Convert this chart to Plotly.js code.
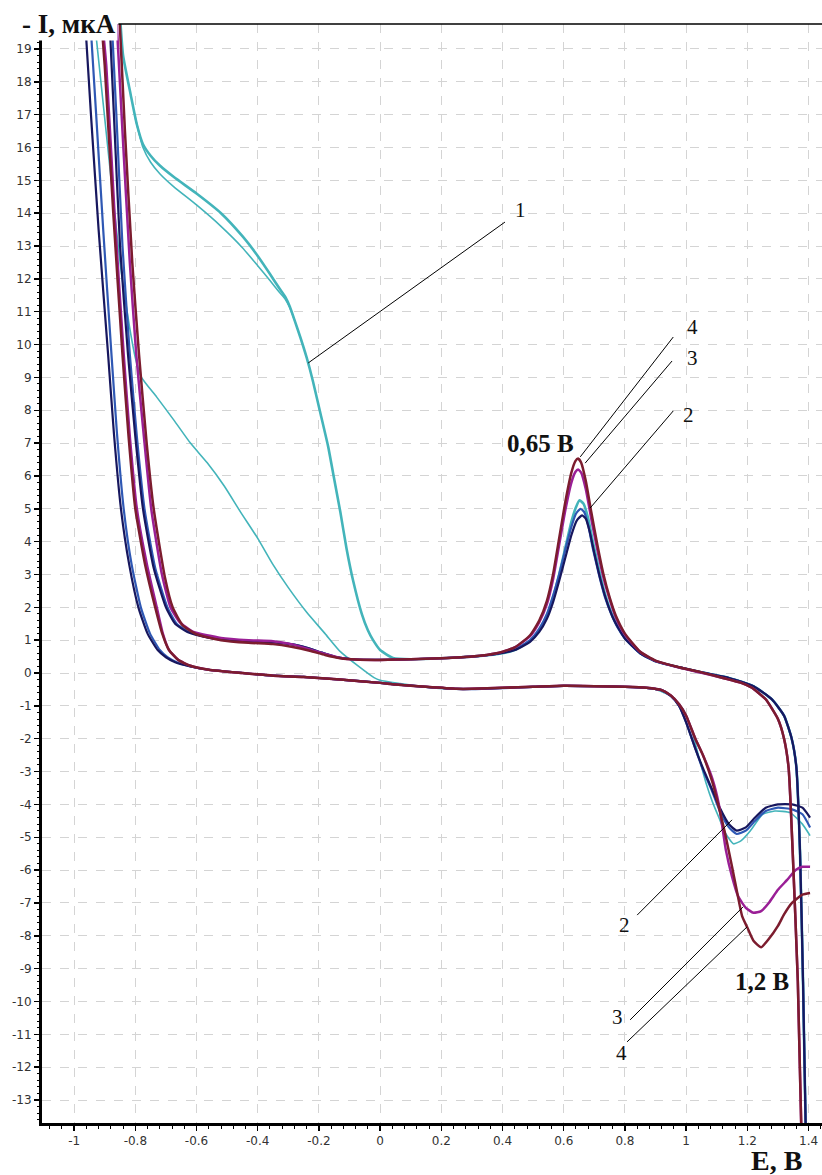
<!DOCTYPE html>
<html><head><meta charset="utf-8">
<script src="https://cdn.plot.ly/plotly-3.0.1.min.js"></script>
<style>html,body{margin:0;padding:0;background:#fff}#chart{width:822px;height:1175px}</style>
</head><body><div id="chart"></div>
<script>
// ---- tick labels ----
var xTickVals = [-1,-0.8,-0.6,-0.4,-0.2,0,0.2,0.4,0.6,0.8,1,1.2,1.4];
var xTickText = ['-1','-0.8','-0.6','-0.4','-0.2','0','0.2','0.4','0.6','0.8','1','1.2','1.4'];
var yTickVals = [-13,-12,-11,-10,-9,-8,-7,-6,-5,-4,-3,-2,-1,0,1,2,3,4,5,6,7,8,9,10,11,12,13,14,15,16,17,18,19];
var yTickText = ['-13','-12','-11','-10','-9','-8','-7','-6','-5','-4','-3','-2','-1','0','1','2','3','4','5','6','7','8','9','10','11','12','13','14','15','16','17','18','19'];

// ---- curve 1 (cyan) ----
var c1FwdE = [-0.85,-0.84,-0.815,-0.795,-0.775,-0.75,-0.72,-0.674,-0.6,-0.52,-0.45,-0.40,-0.36,-0.33,-0.31,-0.295,-0.28,-0.26,-0.24,-0.22,-0.195,-0.17,-0.15,-0.13,-0.11,-0.088,-0.06,-0.04,-0.023,0.0,0.042,0.1,0.2,0.3,0.38,0.44,0.49,0.52,0.545,0.565,0.585,0.605,0.625,0.64,0.652,0.665,0.68,0.695,0.715,0.735,0.755,0.775,0.80,0.85,0.90,0.98,1.05,1.14,1.22,1.28,1.32,1.345,1.36,1.372,1.382,1.392];
var c1FwdI = [20,18.8,17.6,16.7,16.1,15.75,15.45,15.1,14.6,14.0,13.3,12.7,12.15,11.72,11.45,11.15,10.75,10.2,9.6,8.9,7.9,6.9,5.9,4.9,3.8,2.8,1.8,1.3,1.0,0.7,0.46,0.42,0.45,0.5,0.57,0.7,0.98,1.3,1.75,2.3,3.0,3.8,4.6,5.05,5.26,5.15,4.7,4.0,3.15,2.4,1.85,1.45,1.07,0.6,0.36,0.17,0.02,-0.15,-0.4,-0.8,-1.3,-2.0,-2.85,-5.4,-9.4,-14.5];
var c1bFwdE = [-0.80,-0.775,-0.75,-0.72,-0.674,-0.6,-0.52,-0.45,-0.40,-0.36,-0.33,-0.31,-0.295,-0.28];
var c1bFwdI = [16.9,16.0,15.55,15.2,14.8,14.25,13.6,12.95,12.4,11.95,11.6,11.38,11.12,10.75];
var c1RevE = [1.405,1.38,1.34,1.29,1.25,1.21,1.18,1.155,1.13,1.107,1.085,1.065,1.04,1.02,0.99,0.95,0.9,0.8,0.6,0.4,0.27,0.15,0.065,0.0,-0.02,-0.07,-0.13,-0.18,-0.24,-0.3,-0.35,-0.4,-0.456,-0.51,-0.565,-0.62,-0.674,-0.73,-0.78,-0.80,-0.82,-0.85,-0.89,-0.935];
var c1RevI = [-4.95,-4.6,-4.25,-4.2,-4.3,-4.8,-5.1,-5.2,-4.9,-4.4,-3.9,-3.35,-2.5,-1.8,-1.1,-0.7,-0.5,-0.42,-0.38,-0.45,-0.5,-0.43,-0.32,-0.22,-0.14,0.2,0.65,1.2,1.85,2.6,3.3,4.1,4.9,5.7,6.4,7.0,7.7,8.4,9.0,9.6,10.6,12.5,16,20];

// ---- curve 2 (blue) ----
var c2FwdE = [-0.878,-0.862,-0.842,-0.818,-0.795,-0.77,-0.735,-0.695,-0.665,-0.625,-0.56,-0.47,-0.38,-0.31,-0.25,-0.19,-0.14,-0.09,0.0,0.1,0.2,0.3,0.38,0.44,0.49,0.52,0.545,0.565,0.585,0.605,0.625,0.64,0.655,0.667,0.68,0.695,0.715,0.735,0.755,0.775,0.80,0.85,0.90,0.98,1.05,1.14,1.22,1.28,1.32,1.345,1.36,1.372,1.382,1.392];
var c2FwdI = [20,17,13,9.7,7.2,5.0,3.2,2.0,1.5,1.25,1.08,0.98,0.96,0.9,0.8,0.62,0.48,0.42,0.40,0.42,0.45,0.5,0.58,0.72,1.0,1.35,1.8,2.35,3.0,3.75,4.45,4.85,5.0,4.9,4.5,3.8,3.0,2.3,1.8,1.4,1.05,0.6,0.36,0.17,0.02,-0.15,-0.4,-0.8,-1.3,-2.0,-2.85,-5.4,-9.4,-14.5];
var c2RevE = [1.405,1.38,1.346,1.30,1.26,1.22,1.195,1.165,1.14,1.11,1.085,1.055,1.03,1.0,0.977,0.95,0.92,0.87,0.8,0.7,0.6,0.5,0.4,0.3,0.25,0.15,0.05,0.0,-0.13,-0.25,-0.35,-0.45,-0.56,-0.62,-0.665,-0.695,-0.72,-0.752,-0.782,-0.812,-0.838,-0.86,-0.878,-0.905,-0.928,-0.948];
var c2RevI = [-4.7,-4.3,-4.15,-4.1,-4.2,-4.55,-4.8,-4.9,-4.7,-4.2,-3.6,-2.95,-2.3,-1.5,-1.0,-0.7,-0.52,-0.45,-0.42,-0.4,-0.39,-0.42,-0.46,-0.49,-0.48,-0.42,-0.35,-0.3,-0.2,-0.12,-0.08,0.0,0.1,0.2,0.33,0.48,0.7,1.2,2.0,3.3,5.0,7.3,9.7,13.5,17,20];

// ---- curve 2, second cycle (navy) ----
var c2bFwdE = [-0.885,-0.87,-0.85,-0.824,-0.80,-0.775,-0.74,-0.70,-0.67,-0.63,-0.56,-0.47,-0.38,-0.31,-0.25,-0.19,-0.14,-0.09,0.0,0.1,0.2,0.3,0.38,0.44,0.49,0.52,0.545,0.565,0.585,0.605,0.625,0.643,0.66,0.672,0.685,0.70,0.72,0.74,0.76,0.78,0.80,0.85,0.90,0.98,1.05,1.14,1.22,1.28,1.32,1.345,1.36,1.372,1.382,1.392];
var c2bFwdI = [20,17,13,9.7,7.2,5.0,3.2,2.0,1.5,1.25,1.08,0.97,0.95,0.9,0.8,0.62,0.48,0.42,0.40,0.42,0.45,0.5,0.58,0.7,0.95,1.25,1.65,2.15,2.8,3.5,4.2,4.65,4.8,4.7,4.3,3.65,2.85,2.2,1.7,1.35,1.05,0.6,0.36,0.17,0.02,-0.15,-0.4,-0.8,-1.3,-2.0,-2.85,-5.4,-9.4,-14.5];
var c2bRevE = [1.405,1.38,1.346,1.30,1.26,1.22,1.195,1.165,1.14,1.11,1.085,1.055,1.03,1.0,0.977,0.95,0.92,0.87,0.8,0.7,0.6,0.5,0.4,0.3,0.25,0.15,0.05,0.0,-0.13,-0.25,-0.35,-0.45,-0.56,-0.62,-0.67,-0.70,-0.727,-0.76,-0.79,-0.82,-0.847,-0.87,-0.889,-0.92,-0.945,-0.965];
var c2bRevI = [-4.4,-4.1,-4.0,-4.0,-4.1,-4.45,-4.7,-4.8,-4.6,-4.1,-3.55,-2.9,-2.3,-1.5,-1.0,-0.7,-0.52,-0.45,-0.42,-0.4,-0.39,-0.42,-0.45,-0.48,-0.48,-0.42,-0.35,-0.3,-0.2,-0.12,-0.08,0.0,0.1,0.2,0.33,0.48,0.7,1.2,2.0,3.3,5.0,7.3,9.7,13.5,17,20];

// ---- curve 3 (purple) ----
var c3FwdE = [-0.862,-0.842,-0.818,-0.797,-0.772,-0.748,-0.713,-0.685,-0.655,-0.61,-0.52,-0.43,-0.35,-0.29,-0.23,-0.18,-0.13,-0.08,0.0,0.1,0.2,0.3,0.38,0.44,0.49,0.52,0.545,0.565,0.585,0.605,0.625,0.638,0.647,0.657,0.672,0.69,0.71,0.73,0.75,0.77,0.80,0.85,0.90,0.98,1.05,1.12,1.18,1.215,1.26,1.30,1.32,1.335,1.348,1.365,1.378];
var c3FwdI = [20,16.5,12.5,9.7,7.2,5.0,3.0,2.0,1.55,1.25,1.07,1.0,0.97,0.88,0.72,0.58,0.46,0.41,0.40,0.42,0.45,0.5,0.6,0.78,1.12,1.55,2.1,2.85,3.9,4.95,5.8,6.12,6.2,6.1,5.6,4.7,3.75,2.9,2.25,1.7,1.17,0.64,0.37,0.16,0.01,-0.15,-0.3,-0.45,-0.8,-1.4,-2.0,-2.9,-5.4,-9.4,-14.5];
var c3RevE = [1.405,1.38,1.358,1.33,1.30,1.27,1.245,1.22,1.195,1.17,1.15,1.13,1.107,1.085,1.055,1.03,1.0,0.977,0.95,0.92,0.87,0.8,0.7,0.6,0.5,0.4,0.3,0.25,0.15,0.05,0.0,-0.13,-0.25,-0.35,-0.45,-0.56,-0.62,-0.66,-0.69,-0.71,-0.73,-0.762,-0.795,-0.818,-0.838,-0.868,-0.895,-0.91];
var c3RevI = [-5.9,-5.9,-6.0,-6.3,-6.6,-7.0,-7.25,-7.3,-7.15,-6.8,-6.2,-5.4,-4.0,-3.2,-2.5,-2.0,-1.3,-0.95,-0.68,-0.52,-0.45,-0.42,-0.4,-0.39,-0.42,-0.45,-0.48,-0.48,-0.42,-0.35,-0.3,-0.2,-0.12,-0.08,0.0,0.1,0.22,0.4,0.7,1.2,2.0,3.3,5.0,7.2,9.7,14,18.5,20];

// ---- curve 4 (maroon) ----
var c4FwdE = [-0.852,-0.834,-0.81,-0.788,-0.763,-0.74,-0.703,-0.678,-0.645,-0.6,-0.52,-0.43,-0.35,-0.29,-0.23,-0.18,-0.13,-0.08,0.0,0.1,0.2,0.3,0.38,0.44,0.49,0.52,0.545,0.565,0.585,0.605,0.625,0.638,0.647,0.657,0.672,0.69,0.71,0.73,0.75,0.77,0.80,0.85,0.90,0.98,1.05,1.12,1.18,1.215,1.26,1.30,1.32,1.335,1.348,1.365,1.378];
var c4FwdI = [20,16.5,12.5,9.7,7.0,5.0,2.9,2.0,1.45,1.18,1.0,0.92,0.88,0.8,0.68,0.55,0.45,0.41,0.40,0.42,0.45,0.5,0.6,0.78,1.15,1.6,2.2,3.0,4.1,5.2,6.1,6.45,6.53,6.4,5.85,4.9,3.9,3.0,2.3,1.75,1.2,0.65,0.38,0.17,0.02,-0.15,-0.3,-0.45,-0.8,-1.4,-2.0,-2.9,-5.4,-9.4,-14.5];
var c4RevE = [1.405,1.38,1.346,1.32,1.30,1.27,1.245,1.22,1.2,1.183,1.165,1.15,1.13,1.11,1.085,1.055,1.03,1.0,0.977,0.95,0.92,0.87,0.8,0.7,0.6,0.5,0.4,0.3,0.25,0.15,0.05,0.0,-0.13,-0.25,-0.35,-0.45,-0.56,-0.62,-0.66,-0.69,-0.712,-0.735,-0.768,-0.8,-0.822,-0.842,-0.872,-0.9,-0.912];
var c4RevI = [-6.7,-6.75,-7.0,-7.35,-7.7,-8.1,-8.35,-8.15,-7.75,-7.4,-6.6,-5.9,-5.0,-4.2,-3.3,-2.5,-2.0,-1.3,-0.95,-0.68,-0.52,-0.45,-0.42,-0.4,-0.39,-0.42,-0.45,-0.48,-0.48,-0.42,-0.35,-0.3,-0.2,-0.12,-0.08,0.0,0.1,0.22,0.4,0.7,1.2,2.0,3.3,5.0,7.2,9.7,14,18.5,20];

// ---- label texts ----
var curveLabels = ['1','2','3','4'];
var peakLabels = ['0,65 В','1,2 В'];
var xTitle = 'E, В';
var yTitle = '- I, мкА';

function tr(x, y, color, w) {
  return {x: x, y: y, type: 'scatter', mode: 'lines',
    line: {color: color, width: w, shape: 'spline', smoothing: 0.5},
    hoverinfo: 'skip', showlegend: false};
}
var COL = {c1: '#43b4ba', c2: '#2f58b4', c2b: '#17175e', c3: '#9a1f96', c4: '#7c1c2e'};
var data = [
  tr(c1FwdE, c1FwdI, COL.c1, 2.6), tr(c1bFwdE, c1bFwdI, COL.c1, 1.6), tr(c1RevE, c1RevI, COL.c1, 1.6),
  tr(c2FwdE, c2FwdI, COL.c2, 2.2), tr(c2RevE, c2RevI, COL.c2, 2.2),
  tr(c2bFwdE, c2bFwdI, COL.c2b, 2.2), tr(c2bRevE, c2bRevI, COL.c2b, 2.2),
  tr(c3FwdE, c3FwdI, COL.c3, 2.5), tr(c3RevE, c3RevI, COL.c3, 2.5),
  tr(c4FwdE, c4FwdI, COL.c4, 2.5), tr(c4RevE, c4RevI, COL.c4, 2.5)
];

function seg(x0, y0, x1, y1) {
  return {type: 'line', xref: 'x', yref: 'y', x0: x0, y0: y0, x1: x1, y1: y1, line: {color: '#000', width: 1}};
}
var shapes = [
  seg(-0.235, 9.44, 0.408, 13.73),
  seg(0.654, 6.58, 0.958, 10.23),
  seg(0.670, 6.39, 0.954, 9.50),
  seg(0.686, 5.02, 0.958, 7.98),
  seg(0.840, -7.37, 1.150, -4.47),
  seg(0.817, -10.56, 1.186, -7.12),
  seg(0.807, -11.23, 1.199, -7.73),
  {type: 'line', xref: 'paper', yref: 'paper', x0: 0.098, x1: 1, y0: 1, y1: 1, line: {color: '#000', width: 1.5}}
];

var SERIF = 'Liberation Serif, Times New Roman, serif';
var numFont = {family: SERIF, size: 21, color: '#111'};
var boldFont = {family: SERIF, size: 25, color: '#111', weight: 'bold'};
function lab(x, y, t, f) {
  return {x: x, y: y, xref: 'x', yref: 'y', text: t, showarrow: false, font: f, xanchor: 'center', yanchor: 'middle'};
}
var annotations = [
  lab(0.458, 14.09, curveLabels[0], numFont),
  lab(1.02, 10.53, curveLabels[3], numFont),
  lab(1.02, 9.59, curveLabels[2], numFont),
  lab(1.007, 7.85, curveLabels[1], numFont),
  lab(0.80, -7.67, curveLabels[1], numFont),
  lab(0.775, -10.47, curveLabels[2], numFont),
  lab(0.79, -11.57, curveLabels[3], numFont),
  lab(0.523, 7.0, '<b>' + peakLabels[0] + '</b>', boldFont),
  lab(1.248, -9.4, '<b>' + peakLabels[1] + '</b>', boldFont),
  {xref: 'paper', yref: 'paper', x: -0.028, y: 1.0, xanchor: 'left', yanchor: 'middle', showarrow: false,
   text: '<b>' + yTitle + '</b>', font: {family: SERIF, size: 27, color: '#111'},
   bgcolor: '#fff', borderpad: 1},
  {xref: 'paper', yref: 'paper', x: 0.942, y: -0.034, xanchor: 'center', yanchor: 'middle', showarrow: false,
   text: '<b>' + xTitle + '</b>', font: {family: SERIF, size: 28, color: '#111'}}
];

var tickFont = {family: 'DejaVu Sans, Tahoma, sans-serif', size: 12, color: '#333'};
var layout = {
  width: 822, height: 1175,
  margin: {l: 42, r: 0, t: 24, b: 52},
  paper_bgcolor: '#fff', plot_bgcolor: '#fff',
  showlegend: false,
  xaxis: {
    range: [-1.105, 1.444], tickmode: 'array', tickvals: xTickVals, ticktext: xTickText,
    showgrid: true, gridcolor: '#d4d4d4', griddash: 'dash', gridwidth: 1,
    zeroline: false, showline: true, linecolor: '#000', linewidth: 3,
    ticks: 'outside', ticklen: 5, tickwidth: 1.5, tickcolor: '#000',
    minor: {dtick: 0.04, tick0: 0, ticks: 'outside', ticklen: 3, tickcolor: '#000', tickwidth: 1, showgrid: false},
    tickfont: tickFont
  },
  yaxis: {
    range: [-13.7, 19.76], tickmode: 'array', tickvals: yTickVals, ticktext: yTickText,
    showgrid: true, gridcolor: '#d4d4d4', griddash: 'dash', gridwidth: 1,
    zeroline: false, showline: true, linecolor: '#000', linewidth: 3,
    ticks: 'outside', ticklen: 5, tickwidth: 1.5, tickcolor: '#000',
    minor: {dtick: 0.2, tick0: 0, ticks: 'outside', ticklen: 2, tickcolor: '#000', tickwidth: 1, showgrid: false},
    tickfont: tickFont
  },
  shapes: shapes,
  annotations: annotations
};
Plotly.newPlot('chart', data, layout, {staticPlot: true, displayModeBar: false});
</script></body></html>
